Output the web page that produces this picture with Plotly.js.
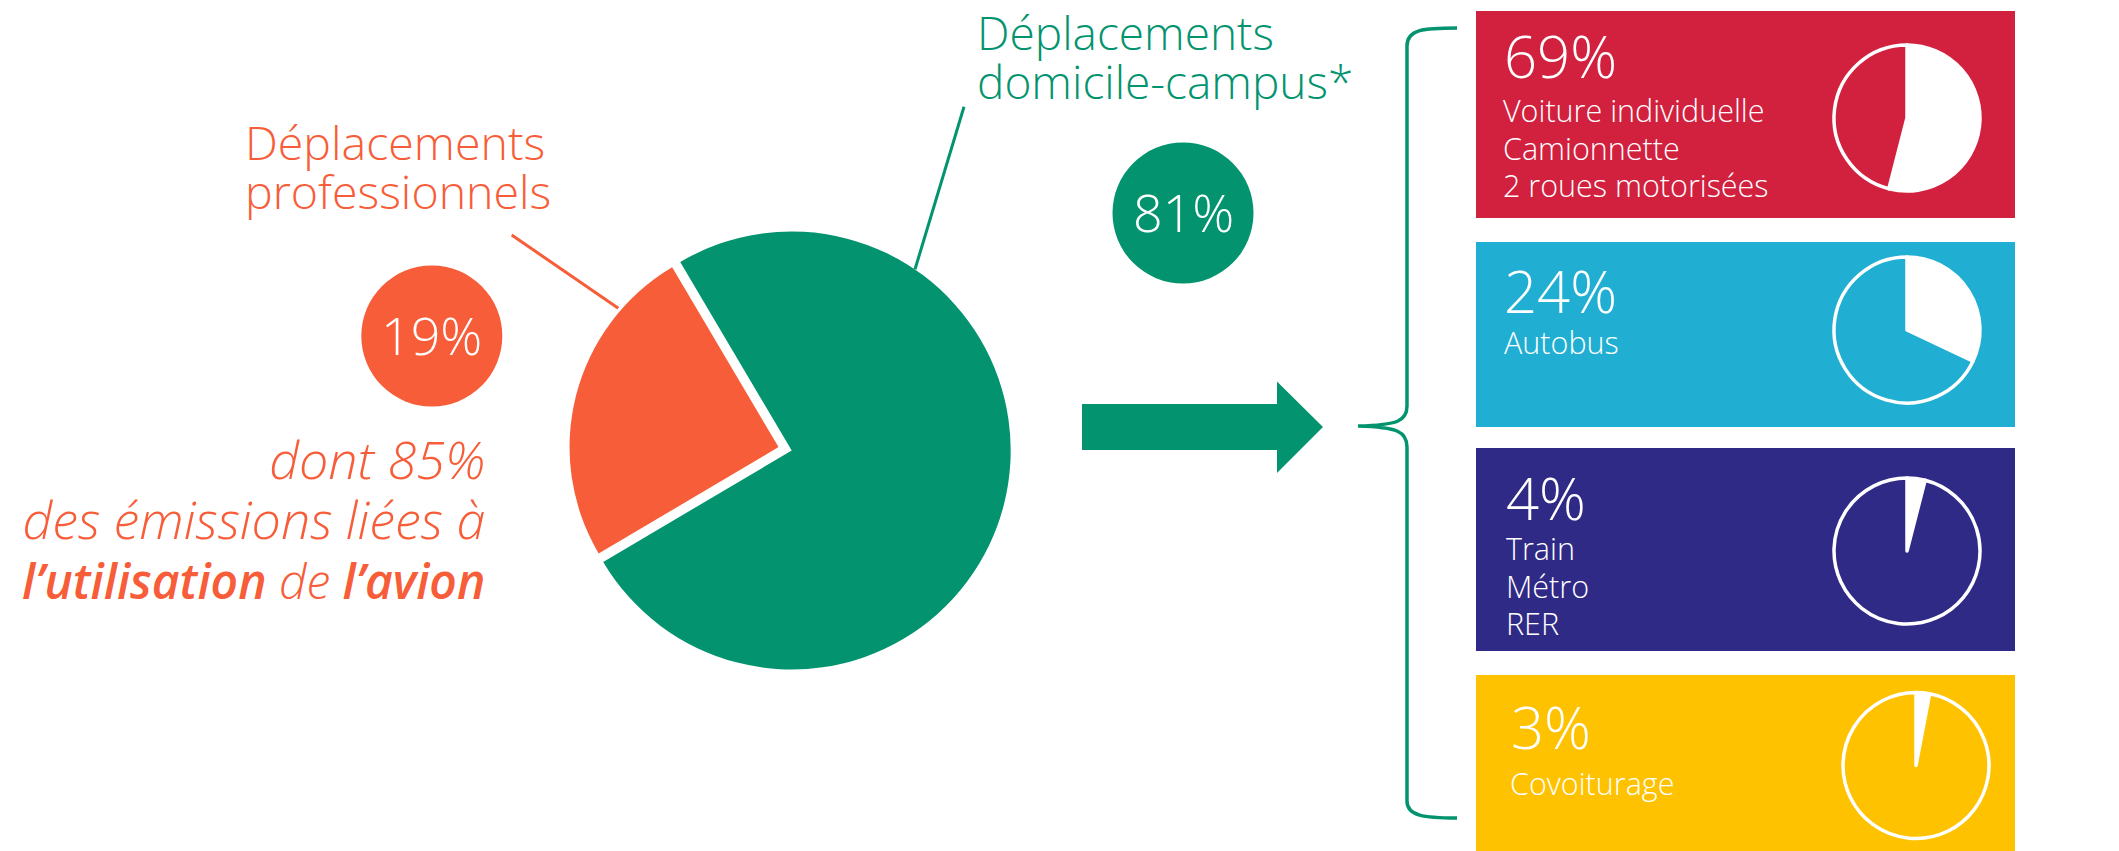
<!DOCTYPE html>
<html>
<head>
<meta charset="utf-8">
<script src="https://cdn.plot.ly/plotly-3.0.1.min.js"></script>
<style>html,body{margin:0;padding:0;background:#fff;overflow:hidden}</style>
</head>
<body>
<div id="chart" style="width:2119px;height:851px"></div>
<script>
// ---------------- data ----------------
const mainCategories = ['Déplacements domicile-campus*', 'Déplacements professionnels'];
const mainTitleLines = [['Déplacements', 'domicile-campus*'], ['Déplacements', 'professionnels']];
const mainLabelPct = [81, 19];            // percentages printed in the two discs
const mainSliceShare = [75, 25];          // share of each slice as drawn in the big pie
const proNoteLines = ['dont 85%', 'des émissions liées à', '<BOLD>l’utilisation</BOLD> de <BOLD>l’avion</BOLD>'];
const modeLabelPct = [69, 24, 4, 3];
const modeLabelLines = [
  ['Voiture individuelle', 'Camionnette', '2 roues motorisées'],
  ['Autobus'],
  ['Train', 'Métro', 'RER'],
  ['Covoiturage']
];
const modePieShare = [54, 32, 4, 3];      // white slice as drawn in each small pie

// ---------------- styles / layout ----------------
const W = 2119, H = 851;
const GREEN = '#03946F', ORANGE = '#F75D38';
const boxColors = ['#D2213F', '#20AFD2', '#2F2A86', '#FEC201'];
const FONT = 'Open Sans, Lato, sans-serif';
const LIGHT = 300;
const ASC = 1.069, DESC = 0.293;   // font box metrics (em)

const X = p => p / W;
const Y = p => 1 - p / H;
const dom = (cx, cy, half) => ({x: [X(cx - half), X(cx + half)], y: [Y(cy + half), Y(cy - half)]});

// multi-line text: glyph size g (number or per-line array), line pitch L (px), first baseline b1
function block(lines, x, b1, g, L, color, xanchor, style) {
  const n = lines.length;
  const gs = lines.map((t, j) => Array.isArray(g) ? g[j] : g);
  const bn = b1 + (n - 1) * L;
  const yc = (b1 - ASC * gs[0] + bn + DESC * gs[n - 1]) / 2;
  const text = lines.map((t, j) => '<span style="font-size:' + gs[j] + 'px">' +
    t.replace(/<BOLD>/g, '<span style="font-weight:600">').replace(/<\/BOLD>/g, '</span>') +
    '</span>').join('<br>');
  return {
    text: text, xref: 'paper', yref: 'paper', x: X(x), y: Y(yc),
    xanchor: xanchor, yanchor: 'middle', showarrow: false, borderpad: 0, borderwidth: 0,
    align: xanchor,
    font: {family: FONT, size: n > 1 ? L / 1.3 : gs[0], color: color, weight: LIGHT, style: style || 'normal'}
  };
}
const line1 = (t, x, b, g, color, xanchor) => block([t], x, b, g, 0, color, xanchor);

function pathOf(cmds) {
  return cmds.map(c => c[0] + ' ' + c.slice(1).map(p => X(p[0]).toFixed(5) + ',' + Y(p[1]).toFixed(5)).join(' ')).join(' ') + (cmds.closed ? ' Z' : '');
}

// big pie geometry
const big = {cx: 791.7, cy: 450.5, r: 219, rPulled: 209, pull: 0.065, rotation: -30.6};
// boxes
const box = {x0: 1476, x1: 2015, top: [11, 242, 448, 675], bottom: [218, 427, 651, 851]};
const pctPos = {x: [1504, 1504, 1506, 1511], base: [78, 313, 520, 749], size: 58};
const subPos = {x: [1503, 1504, 1506, 1510], base: [121.7, 354, 560, 795], step: 37.6, size: 30.5};
const miniPie = {cx: [1907, 1907, 1907, 1916], cy: [118, 330, 551, 765.5], half: 73, line: 3.5};

// ---------------- traces ----------------
const traces = [];
traces.push({
  type: 'pie', values: mainSliceShare, labels: mainCategories, sort: false,
  direction: 'clockwise', rotation: big.rotation,
  marker: {colors: [GREEN, 'rgba(0,0,0,0)'], line: {width: 0}},
  textinfo: 'none', hoverinfo: 'label+percent', showlegend: false,
  domain: dom(big.cx, big.cy, big.r)
});
traces.push({
  type: 'pie', values: mainSliceShare, labels: mainCategories, sort: false,
  direction: 'clockwise', rotation: big.rotation, pull: [0, big.pull],
  marker: {colors: ['rgba(0,0,0,0)', ORANGE], line: {width: 0}},
  textinfo: 'none', hoverinfo: 'label+percent', showlegend: false,
  domain: dom(big.cx, big.cy, big.rPulled * (1 + big.pull))
});
modePieShare.forEach((v, i) => {
  traces.push({
    type: 'pie', values: [v, 100 - v], labels: [modeLabelLines[i].join(', '), 'autres'],
    sort: false, direction: 'clockwise', rotation: 0,
    marker: {colors: ['#ffffff', boxColors[i]], line: {color: '#ffffff', width: miniPie.line}},
    textinfo: 'none', hoverinfo: 'label+percent', showlegend: false,
    domain: dom(miniPie.cx[i], miniPie.cy[i], miniPie.half)
  });
});

// ---------------- shapes ----------------
const shapes = [];
boxColors.forEach((c, i) => shapes.push({
  type: 'rect', xref: 'paper', yref: 'paper', layer: 'below',
  x0: X(box.x0), x1: X(box.x1), y0: Y(box.bottom[i]), y1: Y(box.top[i]),
  fillcolor: c, line: {width: 0}
}));
// discs behind the two main percentages
const discs = [{cx: 1183, cy: 213, r: 70.5, c: GREEN}, {cx: 431.8, cy: 336, r: 70.5, c: ORANGE}];
discs.forEach(d => shapes.push({
  type: 'circle', xref: 'paper', yref: 'paper', layer: 'below',
  x0: X(d.cx - d.r), x1: X(d.cx + d.r), y0: Y(d.cy + d.r), y1: Y(d.cy - d.r),
  fillcolor: d.c, line: {width: 0}
}));
// leader lines
shapes.push({type: 'line', xref: 'paper', yref: 'paper', layer: 'below',
  x0: X(964), y0: Y(106.7), x1: X(915), y1: Y(269.3), line: {color: GREEN, width: 3}});
shapes.push({type: 'line', xref: 'paper', yref: 'paper', layer: 'below',
  x0: X(511.7), y0: Y(235), x1: X(618.3), y1: Y(308.3), line: {color: ORANGE, width: 3}});
// arrow
const arrowCmds = [['M', [1082, 404]], ['L', [1277, 404]], ['L', [1277, 381.5]], ['L', [1323, 427]],
  ['L', [1277, 473]], ['L', [1277, 450]], ['L', [1082, 450]]];
arrowCmds.closed = true;
shapes.push({type: 'path', xref: 'paper', yref: 'paper', layer: 'below',
  path: pathOf(arrowCmds), fillcolor: GREEN, line: {width: 0}});
// curly brace
const braceCmds = [
  ['M', [1457, 28]], ['C', [1424, 28], [1407, 29], [1407, 46]], ['L', [1407, 406]],
  ['C', [1407, 421], [1398, 425], [1358, 426]],
  ['C', [1398, 427], [1407, 432], [1407, 447]], ['L', [1407, 801]],
  ['C', [1407, 816], [1424, 818], [1457, 818]]
];
shapes.push({type: 'path', xref: 'paper', yref: 'paper', layer: 'below',
  path: pathOf(braceCmds), fillcolor: 'rgba(0,0,0,0)', line: {color: GREEN, width: 3.5}});

// ---------------- annotations ----------------
const annotations = [];
// main titles
annotations.push(block(mainTitleLines[0], 977, 49.5, 46, 49, GREEN, 'left'));
annotations.push(block(mainTitleLines[1], 245, 160, 46.5, 49.3, ORANGE, 'left'));
// disc percentages
discs.forEach((d, k) => annotations.push(line1(mainLabelPct[k] + '%', d.cx, d.cy + 19, 52, '#ffffff', 'center')));
// note on professional trips
annotations.push(block(proNoteLines, 485, 478.3, [52, 52, 48], 60, ORANGE, 'right', 'italic'));
// boxes
modeLabelPct.forEach((p, i) => {
  annotations.push(line1(p + '%', pctPos.x[i], pctPos.base[i], pctPos.size, '#ffffff', 'left'));
  annotations.push(block(modeLabelLines[i], subPos.x[i], subPos.base[i], subPos.size, subPos.step, '#ffffff', 'left'));
});

Plotly.newPlot('chart', traces, {
  width: W, height: H, margin: {l: 0, r: 0, t: 0, b: 0},
  paper_bgcolor: '#ffffff', plot_bgcolor: '#ffffff', showlegend: false,
  font: {family: FONT},
  shapes: shapes, annotations: annotations
}, {staticPlot: true, displayModeBar: false});
</script>
</body>
</html>
